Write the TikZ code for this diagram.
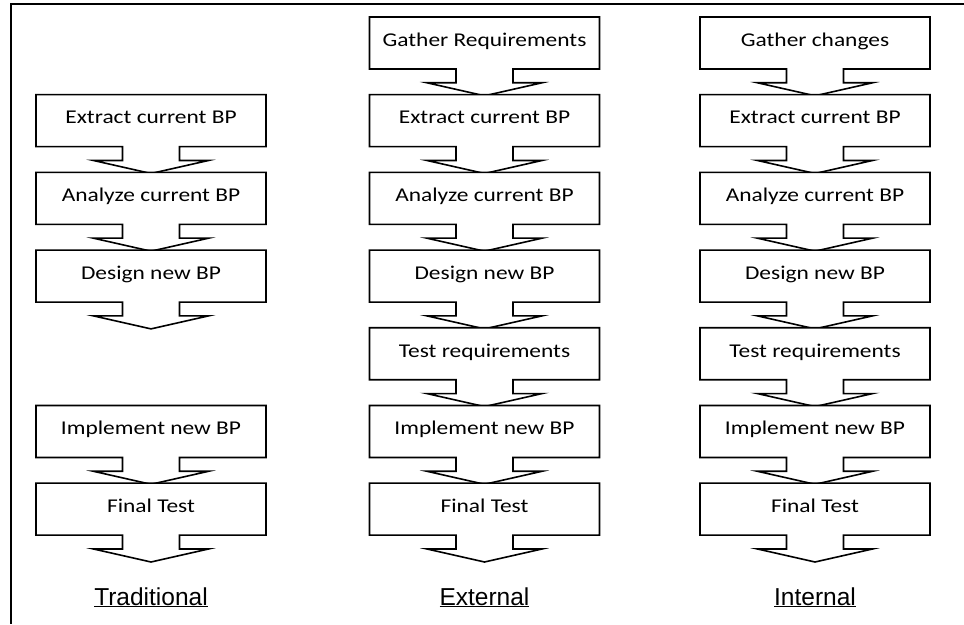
\documentclass[tikz,border=0pt]{standalone}
\usepackage{fontspec}
\setmainfont{Carlito}
\newfontfamily\boxfont[FakeStretch=1.2]{Carlito}
\newfontfamily\labelfont{Liberation Sans}
\usetikzlibrary{shapes.arrows}

\begin{document}
\begin{tikzpicture}[
            x = 1pt, y = 1pt,
            node distance = 77.7pt, % distance between box centres
            line width = 1.6pt
        ]

        \tikzstyle{stepbox}=[
            draw = black,
            fill = white,
            shape = arrow box,
            minimum width = 230pt,
            minimum height = 52pt,
            inner sep = 0pt,
            arrow box arrows = {south:26pt from border},
            arrow box shaft width = 57pt,
            arrow box head extend = 29pt,
            arrow box tip angle = 154.5,
            text height = 12.6pt,
            text depth = 6pt,
            font = \boxfont\fontsize{19.5}{20}\selectfont
        ]
        \tikzstyle{title}=[
            anchor = base,
            font = \labelfont\fontsize{24.5}{25}\selectfont
        ]

        \useasboundingbox (0,0) rectangle (964,624);
        \draw (964,620) -- (11,620) -- (11,0);

        % traditional
        \node[stepbox] (t1) at (151,503.3) {Extract current BP};
        \node[stepbox] (t2) [below of=t1] {Analyze current BP};
        \node[stepbox] (t3) [below of=t2] {Design new BP};
        \node[stepbox] (t4) [below of=t3, node distance=155.4pt] {Implement new BP};
        \node[stepbox] (t5) [below of=t4] {Final Test};

        % external
        \node[stepbox] (e1) at (484.5,581) {Gather Requirements};
        \node[stepbox] (e2) [below of=e1] {Extract current BP};
        \node[stepbox] (e3) [below of=e2] {Analyze current BP};
        \node[stepbox] (e4) [below of=e3] {Design new BP};
        \node[stepbox] (e5) [below of=e4] {Test requirements};
        \node[stepbox] (e6) [below of=e5] {Implement new BP};
        \node[stepbox] (e7) [below of=e6] {Final Test};

        % internal
        \node[stepbox] (i1) at (815,581) {Gather changes};
        \node[stepbox] (i2) [below of=i1] {Extract current BP};
        \node[stepbox] (i3) [below of=i2] {Analyze current BP};
        \node[stepbox] (i4) [below of=i3] {Design new BP};
        \node[stepbox] (i5) [below of=i4] {Test requirements};
        \node[stepbox] (i6) [below of=i5] {Implement new BP};
        \node[stepbox] (i7) [below of=i6] {Final Test};

        \node[title] (lt) at (151,19) {\underline{Traditional}};
        \node[title] (le) at (484.5,19) {\underline{External}};
        \node[title] (li) at (815,19) {\underline{Internal}};
    \end{tikzpicture}
\end{document}
